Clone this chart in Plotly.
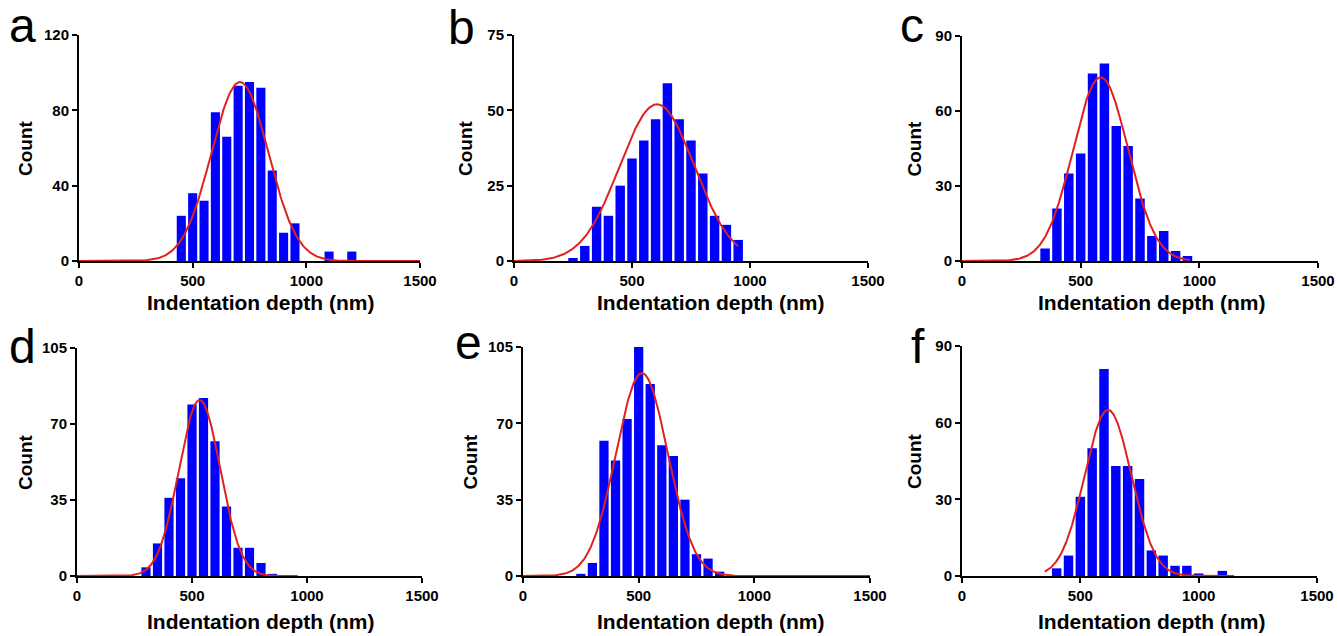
import numpy as np
import plotly.graph_objects as go

# ---------------- data ----------------
panel_letters = ["a", "b", "c", "d", "e", "f"]

bins_a = [450, 500, 550, 600, 650, 700, 750, 800, 850, 900, 950, 1100, 1200]
counts_a = [24, 36, 32, 79, 66, 93, 95, 92, 48, 15, 20, 5, 5]

bins_b = [250, 300, 350, 400, 450, 500, 550, 600, 650, 700, 750, 800, 850, 900, 950]
counts_b = [1, 5, 18, 15, 25, 34, 40, 47, 59, 47, 40, 29, 15, 12, 7]

bins_c = [350, 400, 450, 500, 550, 600, 650, 700, 750, 800, 850, 900, 950]
counts_c = [5, 21, 35, 43, 75, 79, 54, 46, 25, 10, 12, 4, 2]

bins_d = [300, 350, 400, 450, 500, 550, 600, 650, 700, 750, 800, 850]
counts_d = [4, 15, 36, 45, 79, 82, 62, 32, 13, 13, 6, 1]

bins_e = [250, 300, 350, 400, 450, 500, 550, 600, 650, 700, 750, 800, 850]
counts_e = [1, 6, 62, 53, 72, 105, 88, 60, 55, 35, 10, 8, 2]

bins_f = [400, 450, 500, 550, 600, 650, 700, 750, 800, 850, 900, 950, 1000, 1100]
counts_f = [3, 8, 31, 50, 81, 43, 43, 38, 10, 8, 4, 4, 1, 2]

# Gaussian fit parameters
fit_amp = [95, 52, 73.5, 81, 93, 65]
fit_mean = [708, 606, 584, 533, 514, 617]
fit_sd = [125, 158, 116, 90, 112, 99]
fit_start = [0, 0, 0, 0, 0, 350]
fit_end = [1500, 950, 960, 960, 1500, 1150]

y_max = [120, 75, 90, 105, 105, 90]
y_step = [40, 25, 30, 35, 35, 30]
x_ticks = [0, 500, 1000, 1500]

x_title = "Indentation depth (nm)"
y_title = "Count"

all_bins = [bins_a, bins_b, bins_c, bins_d, bins_e, bins_f]
all_counts = [counts_a, counts_b, counts_c, counts_d, counts_e, counts_f]

# ---------------- layout geometry (pixels in 1338x636) ----------------
W, H = 1338, 636
# (x0, x1, ytop, ybottom) plot area in px
boxes = [
    (79, 420, 35, 261),
    (514, 868, 35, 261),
    (962, 1318, 36, 261),
    (77, 422, 348, 576),
    (523, 870, 347, 576),
    (962, 1317, 346, 576),
]
letter_pos = [(22, 25), (461, 28), (912, 25), (22, 346), (468, 342), (918, 346)]
xtitle_pos = [(260, 303), (710, 303), (1151, 303), (260, 621), (710, 621), (1151, 621)]
ytitle_x = [26, 466, 914, 26, 470, 914]

FONT = "Liberation Sans, Arial, sans-serif"
BLUE = "#0000ff"
RED = "#e0211d"

fig = go.Figure()
annotations = []

for i in range(6):
    sfx = "" if i == 0 else str(i + 1)
    xa, ya = "x" + sfx, "y" + sfx
    fig.add_trace(go.Bar(
        x=all_bins[i], y=all_counts[i], xaxis=xa, yaxis=ya,
        width=40, marker=dict(color=BLUE, line=dict(width=0)),
        showlegend=False, hoverinfo="x+y",
    ))
    xs = np.linspace(fit_start[i], fit_end[i], 400)
    ys = fit_amp[i] * np.exp(-((xs - fit_mean[i]) ** 2) / (2 * fit_sd[i] ** 2))
    fig.add_trace(go.Scatter(
        x=xs, y=ys, xaxis=xa, yaxis=ya, mode="lines",
        line=dict(color=RED, width=2), showlegend=False, hoverinfo="skip",
    ))

    x0, x1, yt, yb = boxes[i]
    axis_common = dict(
        showline=True, linecolor="black", linewidth=2, mirror=False,
        ticks="outside", ticklen=5, tickwidth=2, tickcolor="black",
        showgrid=False, zeroline=False, automargin=False,
        tickfont=dict(family=FONT, size=15, color="black", weight="bold"),
        layer="below traces",
    )
    fig.layout["xaxis" + sfx] = dict(
        domain=[x0 / W, x1 / W], anchor=ya, range=[0, 1500],
        tickvals=x_ticks, ticktext=[str(v) for v in x_ticks],
        **axis_common,
    )
    fig.layout["yaxis" + sfx] = dict(
        domain=[1 - yb / H, 1 - yt / H], anchor=xa, range=[0, y_max[i]],
        tickvals=list(range(0, y_max[i] + 1, y_step[i])),
        **axis_common,
    )

    lx, ly = letter_pos[i]
    annotations.append(dict(
        text=panel_letters[i], xref="paper", yref="paper",
        x=lx / W, y=1 - ly / H, xanchor="center", yanchor="middle",
        showarrow=False, font=dict(family=FONT, size=48, color="black"),
    ))
    tx, ty = xtitle_pos[i]
    annotations.append(dict(
        text=x_title, xref="paper", yref="paper",
        x=tx / W, y=1 - ty / H, xanchor="center", yanchor="middle",
        showarrow=False, font=dict(family=FONT, size=21, color="black", weight="bold"),
    ))
    annotations.append(dict(
        text=y_title, xref="paper", yref="paper", textangle=-90,
        x=ytitle_x[i] / W, y=1 - (yt + yb) / 2 / H, xanchor="center", yanchor="middle",
        showarrow=False, font=dict(family=FONT, size=19, color="black", weight="bold"),
    ))

fig.update_layout(
    width=W, height=H, margin=dict(l=0, r=0, t=0, b=0, autoexpand=False),
    paper_bgcolor="white", plot_bgcolor="white",
    annotations=annotations, bargap=0.2,
)

fig.write_html("out.html")
